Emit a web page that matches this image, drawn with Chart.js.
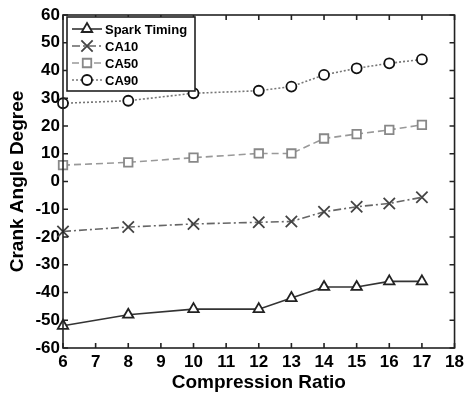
<!DOCTYPE html>
<html>
<head>
<meta charset="utf-8">
<script src="https://cdn.jsdelivr.net/npm/chart.js@4.4.0/dist/chart.umd.min.js"></script>
<style>
  html, body { margin: 0; padding: 0; background: #fff; }
  #wrap { width: 468px; height: 394px; }
</style>
</head>
<body>
<div id="wrap"><canvas id="crank-chart"></canvas></div>
<script>
// Compression ratio values (x) and crank angles (deg)
const ratios = [6, 8, 10, 12, 13, 14, 15, 16, 17];
const sparkTiming = [-52, -48, -46, -46, -42, -38, -38, -36, -36];
const ca10 = [-18, -16.4, -15.3, -14.7, -14.4, -10.9, -9.1, -7.9, -5.7];
const ca50 = [5.9, 6.9, 8.6, 10.1, 10.1, 15.5, 17.1, 18.6, 20.4];
const ca90 = [28.2, 29.1, 31.8, 32.7, 34.2, 38.4, 40.8, 42.6, 44];
const xTicks = [6, 7, 8, 9, 10, 11, 12, 13, 14, 15, 16, 17, 18];
const yTicks = [-60, -50, -40, -30, -20, -10, 0, 10, 20, 30, 40, 50, 60];

function pairs(ys) {
    return ratios.map(function(x, i) { return { x: x, y: ys[i] }; });
}

// small marker drawer for the legend
function drawMarker(ctx, style, x, y, r, color, w) {
    ctx.save();
    ctx.setLineDash([]);
    ctx.strokeStyle = color;
    ctx.fillStyle = '#fff';
    ctx.lineWidth = w;
    ctx.beginPath();
    if (style === 'triangle') {
        ctx.moveTo(x, y - r);
        ctx.lineTo(x + r * 0.87, y + r * 0.5);
        ctx.lineTo(x - r * 0.87, y + r * 0.5);
        ctx.closePath();
        ctx.fill();
    } else if (style === 'crossRot') {
        const o = r * 0.707;
        ctx.moveTo(x - o, y - o); ctx.lineTo(x + o, y + o);
        ctx.moveTo(x + o, y - o); ctx.lineTo(x - o, y + o);
    } else if (style === 'rect') {
        const s = r * 0.707;
        ctx.rect(x - s, y - s, s * 2, s * 2);
        ctx.fill();
    } else {
        ctx.arc(x, y, r, 0, Math.PI * 2);
        ctx.fill();
    }
    ctx.stroke();
    ctx.restore();
}

// MATLAB style frame with inward ticks on all four sides, plus boxed legend
const framePlugin = {
    id: 'frame',
    afterDatasetsDraw(chart) {
        const ctx = chart.ctx;
        const a = chart.chartArea;
        const xs = chart.scales.x, ys = chart.scales.y;
        const tl = 5;
        ctx.save();
        ctx.strokeStyle = '#222';
        ctx.lineWidth = 1.6;
        ctx.setLineDash([]);
        ctx.strokeRect(a.left, a.top, a.right - a.left, a.bottom - a.top);
        ctx.beginPath();
        xTicks.forEach(function(v) {
            const px = xs.getPixelForValue(v);
            ctx.moveTo(px, a.bottom); ctx.lineTo(px, a.bottom - tl);
            ctx.moveTo(px, a.top); ctx.lineTo(px, a.top + tl);
        });
        yTicks.forEach(function(v) {
            const py = ys.getPixelForValue(v);
            ctx.moveTo(a.left, py); ctx.lineTo(a.left + tl, py);
            ctx.moveTo(a.right, py); ctx.lineTo(a.right - tl, py);
        });
        ctx.stroke();

        // legend box
        const bx = a.left + 4, by = a.top + 2, bw = 128, bh = 74;
        ctx.fillStyle = '#fff';
        ctx.fillRect(bx, by, bw, bh);
        ctx.strokeRect(bx, by, bw, bh);
        ctx.font = 'bold 13px "Liberation Sans", Arial, sans-serif';
        ctx.textBaseline = 'middle';
        chart.data.datasets.forEach(function(ds, i) {
            const y = by + 12 + i * 17;
            ctx.save();
            ctx.strokeStyle = ds.borderColor;
            ctx.lineWidth = ds.borderWidth;
            ctx.setLineDash(ds.borderDash || []);
            ctx.beginPath();
            ctx.moveTo(bx + 5, y);
            ctx.lineTo(bx + 35, y);
            ctx.stroke();
            ctx.restore();
            drawMarker(ctx, ds.pointStyle, bx + 20, y, ds.pointRadius, ds.pointBorderColor, ds.pointBorderWidth);
            ctx.fillStyle = '#000';
            ctx.fillText(ds.label, bx + 38, y + 1);
        });
        ctx.restore();
    }
};

const tickFont = { family: '"Liberation Sans", Arial, sans-serif', size: 17, weight: 'bold' };
const titleFont = { family: '"Liberation Sans", Arial, sans-serif', size: 19, weight: 'bold' };

new Chart(document.getElementById('crank-chart'), {
    type: 'line',
    data: {
        datasets: [
            {
                label: 'Spark Timing',
                data: pairs(sparkTiming),
                borderColor: '#333',
                borderWidth: 1.6,
                pointStyle: 'triangle',
                pointRadius: 6,
                pointBorderColor: '#222',
                pointBackgroundColor: '#fff',
                pointBorderWidth: 1.8
            },
            {
                label: 'CA10',
                data: pairs(ca10),
                borderColor: '#666',
                borderWidth: 1.6,
                borderDash: [8, 3, 2, 3],
                pointStyle: 'crossRot',
                pointRadius: 8,
                pointBorderColor: '#444',
                pointBorderWidth: 1.8
            },
            {
                label: 'CA50',
                data: pairs(ca50),
                borderColor: '#999',
                borderWidth: 1.6,
                borderDash: [7, 4],
                pointStyle: 'rect',
                pointRadius: 6,
                pointBorderColor: '#888',
                pointBackgroundColor: '#fff',
                pointBorderWidth: 1.8
            },
            {
                label: 'CA90',
                data: pairs(ca90),
                borderColor: '#777',
                borderWidth: 1.6,
                borderDash: [2, 2],
                pointStyle: 'circle',
                pointRadius: 5,
                pointBorderColor: '#111',
                pointBackgroundColor: '#fff',
                pointBorderWidth: 1.8
            }
        ]
    },
    options: {
        responsive: true,
        maintainAspectRatio: false,
        animation: false,
        layout: { padding: { top: 15, right: 11, left: 0, bottom: 0 } },
        plugins: {
            legend: { display: false },
            tooltip: { enabled: false }
        },
        elements: { line: { tension: 0 } },
        clip: false,
        scales: {
            x: {
                type: 'linear',
                min: 6,
                max: 18,
                afterFit: function(scale) { scale.height = 46; },
                afterBuildTicks: function(scale) {
                    scale.ticks = xTicks.map(function(v) { return { value: v }; });
                },
                grid: { display: false, drawTicks: false },
                border: { display: false },
                ticks: { color: '#000', font: tickFont, padding: 4, maxRotation: 0, autoSkip: false },
                title: { display: true, text: 'Compression Ratio', color: '#000', font: titleFont, padding: 0 }
            },
            y: {
                type: 'linear',
                min: -60,
                max: 60,
                afterFit: function(scale) { scale.width = 63; },
                afterBuildTicks: function(scale) {
                    scale.ticks = yTicks.map(function(v) { return { value: v }; });
                },
                grid: { display: false, drawTicks: false },
                border: { display: false },
                ticks: { color: '#000', font: tickFont, padding: 3, autoSkip: false },
                title: { display: true, text: 'Crank Angle Degree', color: '#000', font: titleFont, padding: { top: 6, bottom: 0 } }
            }
        }
    },
    plugins: [framePlugin]
});
</script>
</body>
</html>
